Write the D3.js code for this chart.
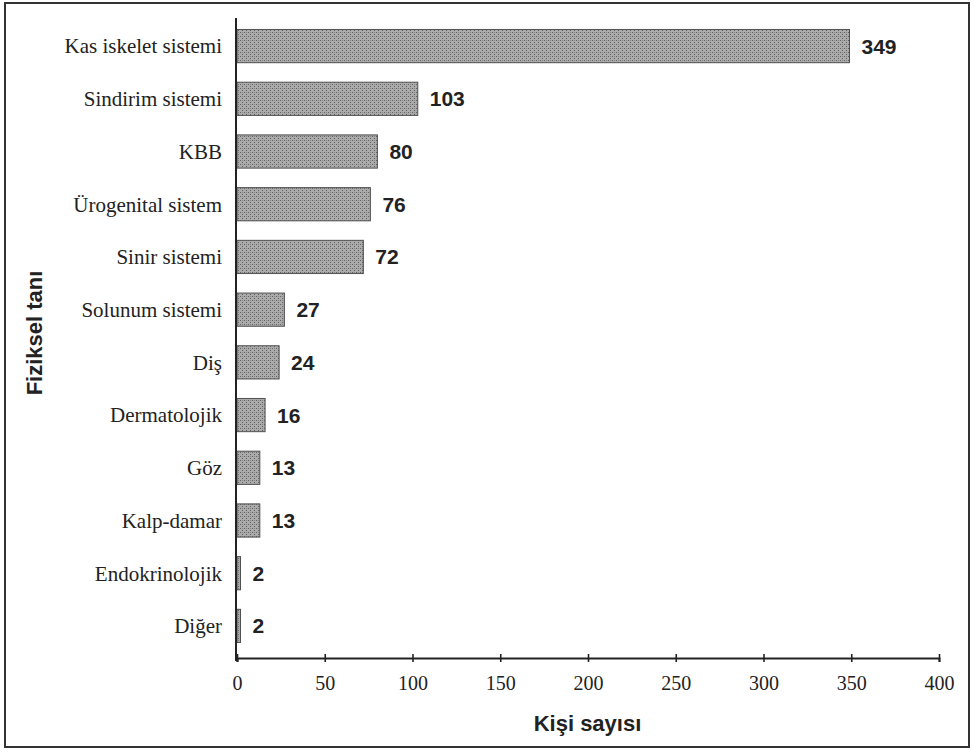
<!DOCTYPE html>
<html>
<head>
<meta charset="utf-8">
<script src="https://cdn.jsdelivr.net/npm/d3@7"></script>
<style>
  body { margin: 0; background: #fff; }
  svg { display: block; }
</style>
</head>
<body>
<div id="chart"></div>
<script>
// data
var categories = ["Kas iskelet sistemi", "Sindirim sistemi", "KBB", "Ürogenital sistem", "Sinir sistemi",
    "Solunum sistemi", "Diş", "Dermatolojik", "Göz", "Kalp-damar", "Endokrinolojik", "Diğer"];
var counts = [349, 103, 80, 76, 72, 27, 24, 16, 13, 13, 2, 2];
var xTicks = [0, 50, 100, 150, 200, 250, 300, 350, 400];

var width = 974, height = 755;
var plot = { left: 236, right: 939, top: 18, bottom: 658 };

var svg = d3.select("#chart")
    .append("svg")
    .attr("width", width)
    .attr("height", height)

// stippled grey fill like the printed bars
var defs = svg.append("defs")
var pat = defs.append("pattern")
    .attr("id", "stipple")
    .attr("width", 4)
    .attr("height", 4)
    .attr("patternUnits", "userSpaceOnUse")
pat.append("rect").attr("width", 4).attr("height", 4).attr("fill", "#ababab")
pat.append("rect").attr("x", 0).attr("y", 0).attr("width", 1).attr("height", 1).attr("fill", "#626262")
pat.append("rect").attr("x", 2).attr("y", 2).attr("width", 1).attr("height", 1).attr("fill", "#626262")
pat.append("rect").attr("x", 2).attr("y", 0).attr("width", 1).attr("height", 1).attr("fill", "#858585")

// outer frame
svg.append("rect")
    .attr("x", 5).attr("y", 3)
    .attr("width", 964).attr("height", 744)
    .attr("fill", "none")
    .attr("stroke", "#333")
    .attr("stroke-width", 2)

var x = d3.scaleLinear()
    .domain([0, 400])
    .range([plot.left + 1, plot.right])

var y = d3.scaleBand()
    .domain(categories)
    .range([20, 652])
    .paddingInner(0.37)
    .paddingOuter(0.18)

// bars
svg.append("g")
    .selectAll("rect")
    .data(categories)
    .enter().append("rect")
    .attr("x", x(0))
    .attr("y", function(d) { return y(d) })
    .attr("width", function(d, i) { return x(counts[i]) - x(0) })
    .attr("height", y.bandwidth())
    .attr("fill", "url(#stipple)")
    .attr("stroke", "#505050")
    .attr("stroke-width", 1)

// value labels
svg.append("g")
    .selectAll("text")
    .data(categories)
    .enter().append("text")
    .attr("x", function(d, i) { return x(counts[i]) + 12 })
    .attr("y", function(d) { return y(d) + y.bandwidth() / 2 })
    .attr("dy", "0.36em")
    .style("font-family", "'Liberation Sans', Arial, sans-serif")
    .style("font-weight", "bold")
    .style("font-size", "21px")
    .style("fill", "#222")
    .text(function(d, i) { return counts[i] })

// category labels
svg.append("g")
    .selectAll("text")
    .data(categories)
    .enter().append("text")
    .attr("x", plot.left - 14)
    .attr("y", function(d) { return y(d) + y.bandwidth() / 2 })
    .attr("dy", "0.35em")
    .attr("text-anchor", "end")
    .style("font-family", "'Liberation Serif', 'Times New Roman', serif")
    .style("font-size", "21px")
    .style("fill", "#222")
    .text(function(d) { return d })

// y axis line (no ticks)
svg.append("line")
    .attr("x1", plot.left).attr("x2", plot.left)
    .attr("y1", plot.top).attr("y2", plot.bottom + 3)
    .attr("stroke", "#222")
    .attr("stroke-width", 2)

// x axis
var xAxis = svg.append("g")
    .attr("transform", "translate(0," + plot.bottom + ")")
    .call(d3.axisBottom(x).tickValues(xTicks).tickSize(4).tickSizeInner(4).tickPadding(14))
xAxis.select(".domain").attr("stroke", "#222").attr("stroke-width", 2)
xAxis.selectAll(".tick line")
    .attr("y1", -4)
    .attr("y2", 4)
    .attr("stroke", "#222")
    .attr("stroke-width", 1.6)
xAxis.selectAll(".tick text")
    .style("font-family", "'Liberation Serif', 'Times New Roman', serif")
    .style("font-size", "20px")
    .style("fill", "#222")

// axis titles
svg.append("text")
    .attr("x", (plot.left + plot.right) / 2)
    .attr("y", 731)
    .attr("text-anchor", "middle")
    .style("font-family", "'Liberation Sans', Arial, sans-serif")
    .style("font-weight", "bold")
    .style("font-size", "22px")
    .style("fill", "#222")
    .text("Kişi sayısı")

svg.append("text")
    .attr("transform", "translate(42," + ((plot.top + plot.bottom) / 2 - 5) + ") rotate(-90)")
    .attr("text-anchor", "middle")
    .style("font-family", "'Liberation Sans', Arial, sans-serif")
    .style("font-weight", "bold")
    .style("font-size", "22px")
    .style("fill", "#222")
    .text("Fiziksel tanı")
</script>
</body>
</html>
